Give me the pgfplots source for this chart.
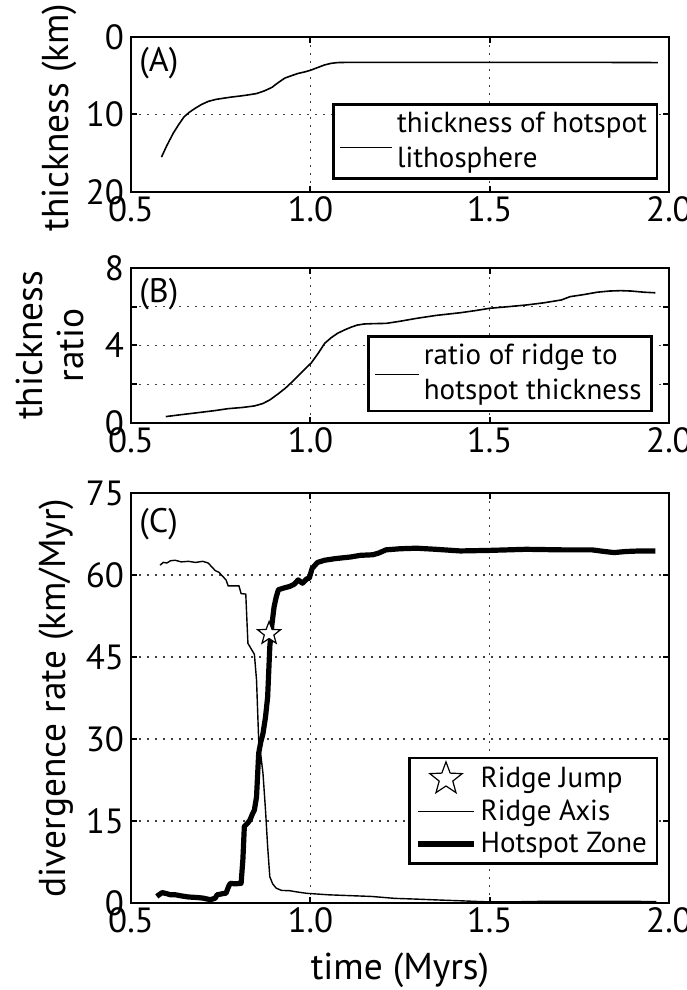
\documentclass[border=0pt]{standalone}
\usepackage{fontspec}
\setmainfont{PT Sans}
\usepackage{pgfplots}
\pgfplotsset{compat=1.18}

\pgfdeclareplotmark{hstar}{%
  \pgfpathmoveto{\pgfpointpolar{90}{\pgfplotmarksize}}%
  \pgfpathlineto{\pgfpointpolar{126}{0.42\pgfplotmarksize}}%
  \pgfpathlineto{\pgfpointpolar{162}{\pgfplotmarksize}}%
  \pgfpathlineto{\pgfpointpolar{198}{0.42\pgfplotmarksize}}%
  \pgfpathlineto{\pgfpointpolar{234}{\pgfplotmarksize}}%
  \pgfpathlineto{\pgfpointpolar{270}{0.42\pgfplotmarksize}}%
  \pgfpathlineto{\pgfpointpolar{306}{\pgfplotmarksize}}%
  \pgfpathlineto{\pgfpointpolar{342}{0.42\pgfplotmarksize}}%
  \pgfpathlineto{\pgfpointpolar{18}{\pgfplotmarksize}}%
  \pgfpathlineto{\pgfpointpolar{54}{0.42\pgfplotmarksize}}%
  \pgfpathclose
  \pgfusepathqfillstroke
}

\pgfplotsset{
  myax/.style={
    scale only axis, width=269pt, xmin=0.5, xmax=2,
    xtick={0.5,1,1.5,2}, xticklabels={0.5,1.0,1.5,2.0},
    grid=major,
    major grid style={black!75, line width=0.6pt, dash pattern=on 0.8pt off 3.2pt},
    axis line style={line width=1.2pt},
    every tick/.style={black, line width=1.0pt},
    major tick length=3pt, tick align=inside,
    tick label style={font=\fontsize{17.5}{19}\selectfont},
    xticklabel style={yshift=1pt},
    label style={font=\fontsize{18.7}{20.5}\selectfont},
    /pgf/number format/assume math mode=true,
    legend cell align=left,
    legend style={draw=black, line width=1.3pt, fill=white,
      font=\fontsize{14.5}{17.5}\selectfont, cells={align=left}},
    anchor=south west,
  },
  starlegend/.style={legend image code/.code={\draw[##1] plot coordinates {(14pt,0pt)};}},
}

\begin{document}
\begin{tikzpicture}
\useasboundingbox (-65.5pt,-43.5pt) rectangle (277.5pt,451.5pt);

% Panel A
\begin{axis}[myax, at={(0pt,355.5pt)}, height=77.5pt,
  ymin=0, ymax=20, y dir=reverse, ytick={0,10,20},
  ylabel={thickness (km)},
  ylabel style={at={(axis description cs:-0.134,0.48)}, anchor=center},
  legend style={at={(0.98,0.077)}, anchor=south east},
  legend image code/.code={\draw[#1] (0pt,-3pt) -- (26pt,-3pt);}]
\addplot[black, line width=0.8pt] coordinates {
(0.585,15.5) (0.60,14.0) (0.618,12.4) (0.633,11.3) (0.648,10.3) (0.663,9.7)
(0.679,9.2) (0.697,8.7) (0.716,8.3) (0.737,8.05) (0.758,7.9) (0.78,7.75)
(0.807,7.6) (0.83,7.45) (0.85,7.3) (0.872,6.95) (0.893,6.5) (0.91,5.9)
(0.929,5.3) (0.947,5.0) (0.966,4.7) (0.985,4.5) (1.0,4.3) (1.02,3.95)
(1.04,3.6) (1.058,3.4) (1.076,3.3) (1.1,3.28) (1.2,3.27) (1.4,3.27)
(1.6,3.28) (1.8,3.28) (1.969,3.3)};
\addlegendentry{thickness of hotspot\\lithosphere}
\node[anchor=north west, inner sep=0pt, font=\fontsize{17}{18}\selectfont]
  at (axis description cs:0.015,0.935) {(A)};
\end{axis}

% Panel B
\begin{axis}[myax, at={(0pt,240pt)}, height=77.5pt,
  ymin=0, ymax=8, ytick={0,2,4,6,8}, yticklabels={0,,4,,8},
  ylabel={thickness\\ratio},
  ylabel style={at={(axis description cs:-0.15,0.5)}, anchor=center, align=center},
  legend style={at={(0.97,0.07)}, anchor=south east},
  legend image code/.code={\draw[#1] (0pt,-0.5pt) -- (22pt,-0.5pt);}]
\addplot[black, line width=0.8pt] coordinates {
(0.597,0.33) (0.64,0.43) (0.685,0.53) (0.73,0.63) (0.771,0.74) (0.81,0.80)
(0.844,0.88) (0.867,1.0) (0.887,1.19) (0.91,1.5) (0.93,1.79) (0.948,2.1)
(0.966,2.43) (0.985,2.78) (1.003,3.11) (1.022,3.6) (1.04,4.11) (1.058,4.4)
(1.076,4.63) (1.095,4.8) (1.113,4.94) (1.13,5.05) (1.15,5.11) (1.18,5.13)
(1.211,5.14) (1.25,5.25) (1.296,5.40) (1.35,5.55) (1.418,5.69) (1.46,5.80)
(1.5,5.92) (1.55,6.0) (1.602,6.09) (1.65,6.2) (1.70,6.35) (1.724,6.52)
(1.76,6.62) (1.80,6.75) (1.834,6.81) (1.865,6.83) (1.895,6.81) (1.93,6.75)
(1.962,6.72)};
\addlegendentry{ratio of ridge to\\hotspot thickness}
\node[anchor=north west, inner sep=0pt, font=\fontsize{17}{18}\selectfont]
  at (axis description cs:0.015,0.935) {(B)};
\end{axis}

% Panel C
\begin{axis}[myax, at={(0pt,0pt)}, height=205pt,
  ymin=0, ymax=75, ytick={0,15,30,45,60,75},
  ylabel={divergence rate (km/Myr)},
  ylabel style={at={(axis description cs:-0.138,0.5)}, anchor=center},
  xlabel={time (Myrs)},
  xlabel style={at={(axis description cs:0.5,-0.163)}, anchor=center},
  legend style={at={(0.98,0.093)}, anchor=south east, row sep=0.5pt},
  legend image code/.code={\draw[#1] (0pt,0pt) -- (28pt,0pt);}]
\addlegendimage{starlegend, mark=hstar, mark size=8.5pt,
  mark options={fill=white, draw=black, line width=0.6pt}}
\addlegendentry{Ridge Jump}
\addplot[black, line width=0.7pt] coordinates {
(0.581,61.8) (0.59,62.3) (0.60,62.2) (0.61,62.6) (0.623,62.7) (0.64,62.4)
(0.66,62.5) (0.68,62.3) (0.70,62.5) (0.715,62.2) (0.725,61.5) (0.735,60.8)
(0.745,60.5) (0.755,59.8) (0.765,59.1) (0.771,58.0) (0.785,58.0) (0.801,58.0)
(0.807,56.6) (0.82,56.5) (0.826,47.5) (0.835,46.5) (0.844,45.5) (0.85,40.8)
(0.856,29.8) (0.862,27) (0.868,23.7) (0.875,17) (0.881,10.3) (0.887,4.8)
(0.895,3.5) (0.905,2.7) (0.92,2.3) (0.942,2.25) (0.965,2.0) (0.99,1.77)
(1.05,1.5) (1.113,1.34) (1.17,1.2) (1.235,0.85) (1.30,0.7) (1.357,0.55)
(1.42,0.4) (1.48,0.24) (1.55,0.2) (1.65,0.3) (1.72,0.32) (1.80,0.3)
(1.90,0.3) (1.965,0.25)};
\addlegendentry{Ridge Axis}
\addplot[black, line width=2.6pt, line join=round] coordinates {
(0.572,1.2) (0.58,1.6) (0.587,1.9) (0.60,1.7) (0.61,1.5) (0.624,1.5)
(0.64,1.3) (0.66,1.1) (0.685,1.0) (0.70,0.9) (0.722,0.6) (0.735,0.9)
(0.74,1.5) (0.755,1.7) (0.765,1.8) (0.772,3.0) (0.777,3.6) (0.79,3.5)
(0.807,3.6) (0.812,8) (0.816,14.0) (0.825,14.6) (0.832,15.2) (0.838,16.2)
(0.844,17.0) (0.85,19.4) (0.856,27.4) (0.862,29.5) (0.868,31.0) (0.875,34)
(0.881,37.7) (0.887,46.9) (0.893,51) (0.899,54.2) (0.905,56) (0.911,57.3)
(0.925,57.6) (0.942,57.9) (0.955,58.3) (0.966,59.1) (0.978,58.5) (0.99,59.3)
(0.997,59.4) (1.005,61.2) (1.02,62.3) (1.04,62.7) (1.07,63.0) (1.113,63.3)
(1.14,63.6) (1.174,63.7) (1.19,64.0) (1.211,64.6) (1.25,64.8) (1.296,64.9)
(1.35,64.7) (1.418,64.4) (1.5,64.5) (1.602,64.7) (1.70,64.6) (1.785,64.6)
(1.82,64.3) (1.847,64.1) (1.88,64.3) (1.92,64.4) (1.962,64.4)};
\addlegendentry{Hotspot Zone}
\addplot[forget plot, only marks, mark=hstar, mark size=6pt,
  mark options={fill=white, draw=black, line width=0.6pt}] coordinates {(0.885,49.3)};
\node[anchor=north west, inner sep=0pt, font=\fontsize{17}{18}\selectfont]
  at (axis description cs:0.015,0.963) {(C)};
\end{axis}
\end{tikzpicture}
\end{document}
